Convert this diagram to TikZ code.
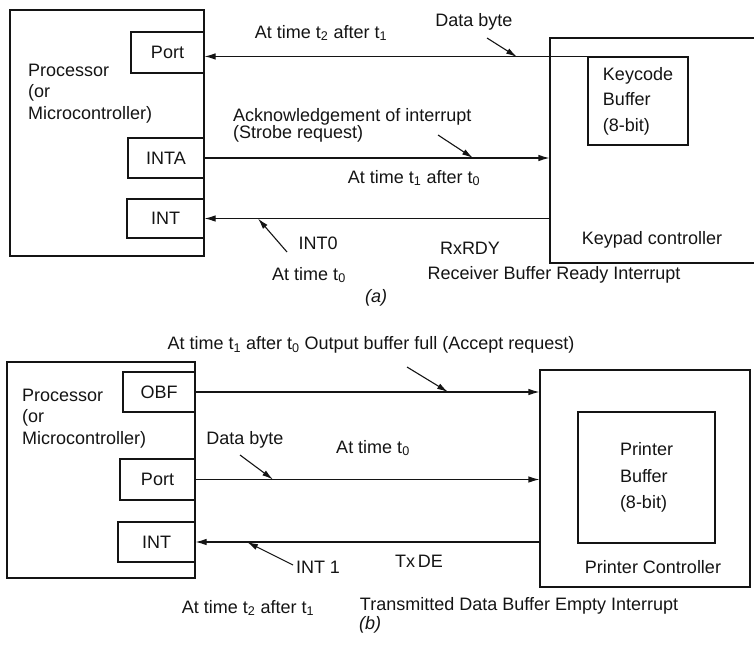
\documentclass[tikz,border=0pt]{standalone}
\usepackage{fontspec}
\setmainfont{Liberation Sans}
\usetikzlibrary{arrows.meta}
\definecolor{hsInk}{HTML}{141414}
\tikzset{
  hs frame/.style={draw=hsInk, line width=1.1pt, inner sep=0pt},
  hs pin/.style={hs frame, text=hsInk, font=\fontsize{18}{20}\selectfont},
  hs signal/.style={draw=hsInk, line width=1.1pt, -{Latex[length=11pt,width=6.5pt]}},
  hs pointer/.style={draw=hsInk, line width=1.1pt, -{Latex[length=11pt,width=6pt]}},
  hs text/.style={font=\fontsize{18}{20}\selectfont, text=hsInk, inner sep=0pt},
}

\begin{document}
\begin{tikzpicture}[x=1pt, y=-1pt]
  \useasboundingbox (0,0) rectangle (754,651);
  \clip (0,0) rectangle (754,651);

  % (a) processor side
  \node[hs frame, minimum width=194, minimum height=246] (procA) at (107,133) {};
  \node[hs text, align=left, anchor=west, font=\fontsize{18}{21.5}\selectfont] (procAtxt) at (28,93.5) {Processor\\(or\\Microcontroller)};
  \node[hs pin, minimum width=73, minimum height=41] (port1) at (167.5,52.5) {Port};
  \node[hs pin, minimum width=76, minimum height=40] (inta1) at (166,158) {INTA};
  \node[hs pin, minimum width=77, minimum height=39] (int1) at (165.5,218.5) {INT};

  % (a) keypad side, open to the right
  \node[hs frame, minimum width=230, minimum height=225] (kpad) at (665,150.5) {};
  \node[hs pin, minimum width=100, minimum height=88, align=left, font=\fontsize{18}{25.5}\selectfont] (kbuf) at (638,101) {Keycode\\Buffer\\(8-bit)};
  \node[hs text] (kpadtxt) at (652,240) {Keypad controller};

  % (a) signals
  \draw[hs signal] (kbuf.north west) -- (kbuf.north west -| port1.east);
  \draw[hs signal] (inta1.east) -- (inta1.east -| kpad.west);
  \draw[hs signal] (int1.east -| kpad.west) -- (int1.east);

  % (a) notes
  \node[hs text] (t2A) at (321,33) {At time t\textsubscript{2} after t\textsubscript{1}};
  \node[hs text] (dbA) at (474,22) {Data byte};
  \node[hs text, align=left, anchor=west, font=\fontsize{18}{17}\selectfont] (ackA) at (233,125) {Acknowledgement of interrupt\\(Strobe request)};
  \node[hs text] (t1A) at (414,178) {At time t\textsubscript{1} after t\textsubscript{0}};
  \node[hs text] (int0) at (318,243) {INT0};
  \node[hs text] (t0A) at (309,275) {At time t\textsubscript{0}};
  \node[hs text] (rxrdy) at (470,248) {RxRDY};
  \node[hs text] (rbri) at (554,275) {Receiver Buffer Ready Interrupt};
  \node[hs text] (capA) at (376,298) {\textit{(a)}};

  \coordinate (dbAtail) at (487,38);
  \coordinate (dbAtip) at (517,57);
  \coordinate (ackAtail) at (438,135);
  \coordinate (ackAtip) at (473,158);
  \coordinate (int0tail) at (287,252);
  \coordinate (int0tip) at (258,218.5);
  \draw[hs pointer] (dbAtail) -- (dbAtip);
  \draw[hs pointer] (ackAtail) -- (ackAtip);
  \draw[hs pointer] (int0tail) -- (int0tip);

  % (b) processor side
  \node[hs text] (obfnote) at (371,345) {At time t\textsubscript{1} after t\textsubscript{0} Output buffer full (Accept request)};
  \node[hs frame, minimum width=188, minimum height=216] (procB) at (101,470) {};
  \node[hs text, align=left, anchor=west, font=\fontsize{18}{21.5}\selectfont] (procBtxt) at (22,418.5) {Processor\\(or\\Microcontroller)};
  \node[hs pin, minimum width=72, minimum height=40] (obf) at (159,392) {OBF};
  \node[hs pin, minimum width=75, minimum height=41] (port2) at (157.5,479.5) {Port};
  \node[hs pin, minimum width=77, minimum height=40] (int2) at (156.5,542) {INT};

  % (b) printer side
  \node[hs frame, minimum width=210, minimum height=217] (prn) at (645,478.5) {};
  \node[hs pin, minimum width=137, minimum height=131, align=left, font=\fontsize{18}{26.5}\selectfont] (pbuf) at (646.5,477.5) {Printer\\Buffer\\(8-bit)};
  \node[hs text] (prntxt) at (653,567) {Printer Controller};

  % (b) signals
  \draw[hs signal] (obf.east) -- (obf.east -| prn.west);
  \draw[hs signal] (port2.east) -- (port2.east -| prn.west);
  \draw[hs signal] (int2.east -| prn.west) -- (int2.east);

  % (b) notes
  \node[hs text] (dbB) at (245,440) {Data byte};
  \node[hs text] (t0B) at (373,448) {At time t\textsubscript{0}};
  \node[hs text] (int1lbl) at (318,567) {INT 1};
  \node[hs text] (txde) at (419,561) {Tx\,DE};
  \node[hs text] (t2B) at (248,608) {At time t\textsubscript{2} after t\textsubscript{1}};
  \node[hs text] (tdbe) at (519,606) {Transmitted Data Buffer Empty Interrupt};
  \node[hs text] (capB) at (370,625) {\textit{(b)}};

  \coordinate (obftail) at (407,367);
  \coordinate (obftip) at (448,392);
  \coordinate (dbBtail) at (240,455);
  \coordinate (dbBtip) at (273,479.5);
  \coordinate (int1tail) at (293,565);
  \coordinate (int1tip) at (247,542);
  \draw[hs pointer] (obftail) -- (obftip);
  \draw[hs pointer] (dbBtail) -- (dbBtip);
  \draw[hs pointer] (int1tail) -- (int1tip);
\end{tikzpicture}
\end{document}
